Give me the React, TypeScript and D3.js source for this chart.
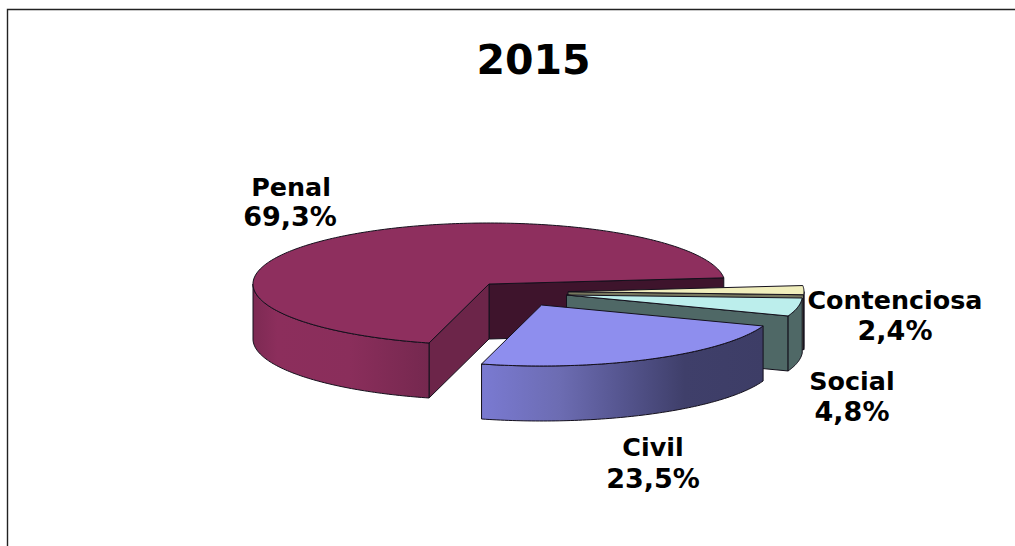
import React from "react";
import * as d3 from "d3";

const categories = ["Penal", "Contenciosa", "Social", "Civil"];
const values = [69.3, 2.4, 4.8, 23.5];
const valueLabels = ["69,3%", "2,4%", "4,8%", "23,5%"];
const title = "2015";

const W = 1015, H = 546;
const RX = 236, RY = 61, DEPTH = 55;
const START = (84.2 * Math.PI) / 180 - (69.3 / 100) * 2 * Math.PI;
const centers = [[489, 284], [568, 291.7], [566.5, 295], [541.5, 305]];
const labelPos = [[291, 196, 226], [895, 308.5, 340], [852, 390, 421], [653, 456, 488]];
const topColors = ["#8e2f5e", "#f0eebc", "#bceeec", "#8e8eee"];
const wallColors = ["#3e142c", "#77775e", "#4f6866", "#3d3d66"];
const cutColors = ["#6c2549", "", "", ""];
const sideFills = ["url(#gPenal)", "#77775e", "#4f6866", "url(#gCivil)"];

const scaleX = d3.scaleLinear().domain([-1, 1]).range([-RX, RX]);
const scaleY = d3.scaleLinear().domain([-1, 1]).range([-RY, RY]);
const pie = d3.pie<number>().sort(null).value((d) => d).startAngle(START).endAngle(START + 2 * Math.PI);
const slices = pie(values);
const line = d3.line();

function pt(c: number[], a: number, dz = 0): [number, number] {
  return [c[0] + scaleX(Math.sin(a)), c[1] - scaleY(Math.cos(a)) + dz];
}
function arcPts(c: number[], a0: number, a1: number, dz = 0) {
  const n = Math.max(2, Math.ceil(Math.abs(a1 - a0) * 60));
  return d3.range(n + 1).map((i) => pt(c, a0 + ((a1 - a0) * i) / n, dz));
}
function topPath(c: number[], a0: number, a1: number) {
  return line([[c[0], c[1]], ...arcPts(c, a0, a1)]) + "Z";
}
function sidePath(c: number[], a0: number, a1: number) {
  return line([...arcPts(c, a0, a1), ...arcPts(c, a1, a0, DEPTH)]) + "Z";
}
function wallPath(c: number[], a: number) {
  const p = pt(c, a);
  return line([[c[0], c[1]], p, [p[0], p[1] + DEPTH], [c[0], c[1] + DEPTH]]) + "Z";
}

const stroke = { stroke: "#14101c", strokeWidth: 1, strokeLinejoin: "round" as const };

function frontRange(a0: number, a1: number): [number, number] | null {
  const lo = Math.PI / 2, hi = (3 * Math.PI) / 2;
  const tau = 2 * Math.PI;
  for (const k of [-1, 0, 1]) {
    const s = Math.max(a0 + k * tau, lo), e = Math.min(a1 + k * tau, hi);
    if (e > s) return [s, e];
  }
  return null;
}

export default function App() {
  return (
    <svg width={W} height={H} viewBox={`0 0 ${W} ${H}`} style={{ position: "absolute", left: 0, top: 0, background: "#fff" }}>
      <defs>
        <linearGradient id="gPenal" gradientUnits="userSpaceOnUse" x1={253} x2={429} y1={0} y2={0}>
          <stop offset="0" stopColor="#7d2a53" />
          <stop offset="0.14" stopColor="#8c2e5c" />
          <stop offset="0.55" stopColor="#8a2e5b" />
          <stop offset="1" stopColor="#75284f" />
        </linearGradient>
        <linearGradient id="gCivil" gradientUnits="userSpaceOnUse" x1={481} x2={764} y1={0} y2={0}>
          <stop offset="0" stopColor="#7a7ad2" />
          <stop offset="0.28" stopColor="#6c6cb2" />
          <stop offset="0.5" stopColor="#55558f" />
          <stop offset="0.72" stopColor="#3f3f6a" />
          <stop offset="1" stopColor="#3d3d66" />
        </linearGradient>
      </defs>
      <path d={`M7.5 ${H}V9.5H${W}`} fill="none" stroke="#222" strokeWidth={1.4} />
      <text x={533.5} y={74} textAnchor="middle" fontFamily="DejaVu Sans" fontWeight="bold" fontSize={41} fill="#000">{title}</text>

      {slices.map((s, i) => {
        const c = centers[i];
        const fr = frontRange(s.startAngle, s.endAngle);
        return (
          <g key={categories[i]}>
            {i === 0 && <path d={wallPath(c, s.endAngle)} fill={wallColors[i]} {...stroke} />}
            {i === 0 && <path d={wallPath(c, s.startAngle)} fill={cutColors[i]} {...stroke} />}
            {(i === 1 || i === 2) && <path d={wallPath(c, s.endAngle)} fill={wallColors[i]} {...stroke} />}
            {fr && <path d={sidePath(c, fr[0], fr[1])} fill={sideFills[i]} {...stroke} />}
            <path d={topPath(c, s.startAngle, s.endAngle)} fill={topColors[i]} {...stroke} />
          </g>
        );
      })}

      {categories.map((cat, i) => (
        <g key={cat} fontFamily="DejaVu Sans" fontWeight="bold" textAnchor="middle" fill="#000">
          <text x={labelPos[i][0]} y={labelPos[i][1]} fontSize={25.4}>{cat}</text>
          <text x={i === 0 ? labelPos[i][0] - 1 : labelPos[i][0]} y={labelPos[i][2]} fontSize={27}>{valueLabels[i]}</text>
        </g>
      ))}
    </svg>
  );
}
